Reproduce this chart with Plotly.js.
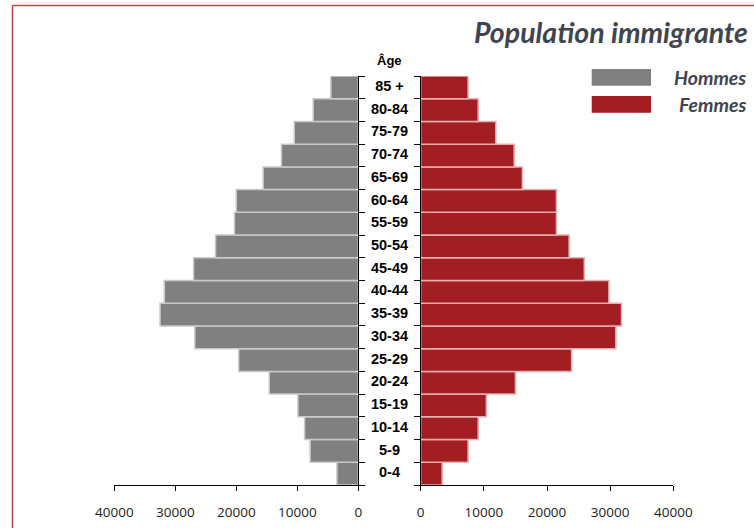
<!DOCTYPE html>
<html>
<head>
<meta charset="utf-8">
<script src="https://cdn.plot.ly/plotly-3.0.1.min.js"></script>
<style>html,body{margin:0;padding:0;background:#fff;}#chart{width:754px;height:528px;}</style>
</head>
<body>
<div id="chart"></div>
<script>
// Age groups, bottom to top
var ageGroups = ['0-4','5-9','10-14','15-19','20-24','25-29','30-34','35-39','40-44','45-49','50-54','55-59','60-64','65-69','70-74','75-79','80-84','85 +'];
var hommes = [3500, 7900, 8800, 9900, 14600, 19600, 26800, 32500, 31800, 27000, 23400, 20300, 20000, 15600, 12600, 10500, 7400, 4500];
var femmes = [3400, 7500, 9100, 10400, 15000, 23900, 30900, 31800, 29800, 25900, 23500, 21500, 21500, 16100, 14800, 11900, 9100, 7500];
var xTickVals = [0, 10000, 20000, 30000, 40000];
var xTickText = ['0', '10000', '20000', '30000', '40000'];
var seriesNames = ['Hommes', 'Femmes'];
var titleText = 'Population immigrante';
var ageHeader = 'Âge';

var W = 754, H = 528;
var px = function(v){ return v / W; };
var py = function(v){ return 1 - v / H; };

var xL = [px(114.3), px(358.3)];
var xR = [px(420.7), px(673.3)];
var xM = [px(358.3), px(420.7)];
var yD = [py(485), py(76)];

var grey = '#808080', red = '#a31e23';
var textDark = '#3f4550';
var frameColor = '#c0434a';

var traces = [
  {type:'bar', orientation:'h', y: ageGroups, x: hommes, name: seriesNames[0], xaxis:'x', yaxis:'y',
   marker:{color: grey, line:{color:'#c9c9c9', width:1.5}}, hoverinfo:'x+y'},
  {type:'bar', orientation:'h', y: ageGroups, x: femmes, name: seriesNames[1], xaxis:'x2', yaxis:'y2',
   marker:{color: red, line:{color:'#e8aeb0', width:1.5}}, hoverinfo:'x+y'},
  {type:'scatter', mode:'text', x: ageGroups.map(function(){return 0;}), y: ageGroups,
   text: ageGroups.map(function(a){return '<b>' + a + '</b>';}),
   xaxis:'x3', yaxis:'y', textposition:'middle center',
   textfont:{family:'Liberation Sans, Arial, sans-serif', size:14.5, color:'#000'}, hoverinfo:'skip'}
];

var tickFont = {family:'Open Sans, sans-serif', size:13.5, color:'#222'};
var catAxis = {type:'category', categoryorder:'array', categoryarray: ageGroups, range:[-0.5, 17.5],
  domain: yD, tickson:'boundaries', ticks:'outside', ticklen:6, tickcolor:'#000', tickwidth:1,
  showline:true, linecolor:'#000', linewidth:1, showgrid:false, zeroline:false, showticklabels:false, fixedrange:true};
var ovY = {type:'linear', range:[-0.5,17.5], tick0:-0.5, dtick:1, ticks:'inside', ticklen:5, tickcolor:'#000',
  tickwidth:1, showline:false, showgrid:false, zeroline:false, showticklabels:false, domain: yD};

var layout = {
  width: W, height: H,
  margin:{l:0, r:0, t:0, b:0, pad:0},
  paper_bgcolor:'#fff', plot_bgcolor:'rgba(0,0,0,0)',
  showlegend:false,
  barmode:'overlay', bargap:0,
  font:{family:'Liberation Sans, Arial, sans-serif'},
  title:{text: '<b><i>' + titleText + '</i></b>', x: px(748), xanchor:'right', xref:'paper', y: py(33), yanchor:'middle',
    font:{family:'Lato, sans-serif', size:28.5, color: textDark}},
  xaxis:{domain: xL, range:[40000, 0], tickvals: xTickVals, ticktext: xTickText, ticks:'outside', ticklen:5, tickcolor:'#000',
    showline:true, linecolor:'#000', showgrid:false, zeroline:false, tickfont: tickFont, ticklabelstandoff:10,
    anchor:'y', automargin:false, fixedrange:true},
  xaxis2:{domain: xR, range:[0, 40000], tickvals: xTickVals, ticktext: xTickText, ticks:'outside', ticklen:5, tickcolor:'#000',
    showline:true, linecolor:'#000', showgrid:false, zeroline:false, tickfont: tickFont, ticklabelstandoff:10,
    anchor:'y2', automargin:false, fixedrange:true},
  xaxis3:{domain: xM, range:[-1, 1], visible:false, anchor:'y', fixedrange:true},
  xaxis4:{overlaying:'x', anchor:'y', range:[40000,0], tickvals: xTickVals, ticks:'inside', ticklen:5, tickcolor:'#000',
    showline:false, showgrid:false, zeroline:false, showticklabels:false, side:'bottom'},
  xaxis5:{overlaying:'x2', anchor:'y2', range:[0,40000], tickvals: xTickVals, ticks:'inside', ticklen:5, tickcolor:'#000',
    showline:false, showgrid:false, zeroline:false, showticklabels:false, side:'bottom'},
  yaxis: Object.assign({}, catAxis, {anchor:'x', side:'right'}),
  yaxis2: Object.assign({}, catAxis, {anchor:'x2', side:'left'}),
  yaxis3: Object.assign({}, ovY, {overlaying:'y', anchor:'x', side:'right'}),
  yaxis4: Object.assign({}, ovY, {overlaying:'y2', anchor:'x2', side:'left'}),
  shapes:[
    {type:'line', xref:'paper', yref:'paper', x0: px(12.5), x1: px(12.5), y0: 0, y1: py(5.5),
     line:{color: frameColor, width:1.5}},
    {type:'line', xref:'paper', yref:'paper', x0: px(12.5), x1: 1, y0: py(5.5), y1: py(5.5),
     line:{color: frameColor, width:1.5}},
    {type:'rect', xref:'paper', yref:'paper', x0: px(591.7), x1: px(651), y0: py(85.7), y1: py(69),
     line:{width:0}, fillcolor: grey},
    {type:'rect', xref:'paper', yref:'paper', x0: px(591.7), x1: px(651), y0: py(112.7), y1: py(96),
     line:{width:0}, fillcolor: red}
  ],
  annotations:[
    {xref:'paper', yref:'paper', x: px(748), y: py(78), xanchor:'right', yanchor:'middle', showarrow:false,
     text:'<b><i>' + seriesNames[0] + '</i></b>', font:{family:'Lato, sans-serif', size:19.5, color: textDark}},
    {xref:'paper', yref:'paper', x: px(748), y: py(104.5), xanchor:'right', yanchor:'middle', showarrow:false,
     text:'<b><i>' + seriesNames[1] + '</i></b>', font:{family:'Lato, sans-serif', size:19.5, color: textDark}},
    {xref:'paper', yref:'paper', x: px(389.5), y: py(61), xanchor:'center', yanchor:'middle', showarrow:false,
     text:'<b>' + ageHeader + '</b>', font:{family:'Liberation Sans, Arial, sans-serif', size:13, color:'#000'}}
  ]
};

Plotly.newPlot('chart', traces, layout, {displayModeBar:false, staticPlot:true});
</script>
</body>
</html>
